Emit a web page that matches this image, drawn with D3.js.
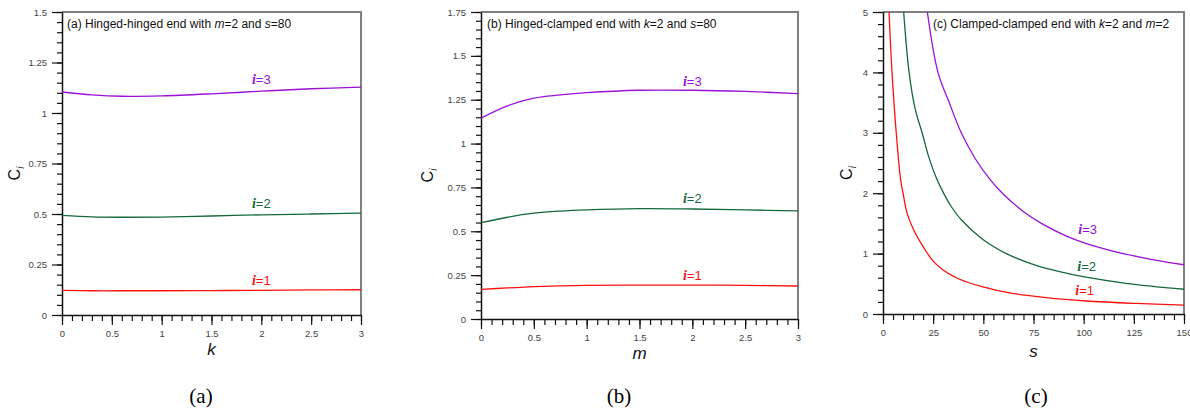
<!DOCTYPE html>
<html>
<head>
<meta charset="utf-8">
<script src="https://cdn.jsdelivr.net/npm/d3@7"></script>
<style>
  html, body { margin: 0; padding: 0; background: #fff; }
  svg { display: block; }
  .tick text { font-family: Arial, "Liberation Sans", sans-serif; fill: #444; }
</style>
</head>
<body>
<svg id="fig" width="1190" height="417"></svg>
<script>
// ---- Data -------------------------------------------------------------
// (a) Hinged-hinged end, m=2, s=80 : C_i against k
const aK  = [0, 0.3, 0.6, 1.0, 1.5, 2.0, 2.5, 3.0];
const aI1 = [0.122, 0.120, 0.120, 0.120, 0.121, 0.122, 0.124, 0.125];
const aI2 = [0.493, 0.486, 0.484, 0.485, 0.490, 0.496, 0.500, 0.504];
const aI3 = [1.104, 1.090, 1.083, 1.085, 1.095, 1.108, 1.120, 1.128];

// (b) Hinged-clamped end, k=2, s=80 : C_i against m
const bM  = [0, 0.25, 0.5, 0.75, 1.0, 1.5, 2.0, 2.5, 3.0];
const bI1 = [0.169, 0.177, 0.184, 0.189, 0.192, 0.193, 0.193, 0.192, 0.188];
const bI2 = [0.549, 0.580, 0.603, 0.615, 0.622, 0.629, 0.627, 0.622, 0.616];
const bI3 = [1.145, 1.215, 1.259, 1.277, 1.290, 1.304, 1.304, 1.297, 1.285];

// (c) Clamped-clamped end, k=2, m=2 : C_i against s
const cS1 = [3.0, 4.5, 6.6, 8.8, 10.0, 12.0, 15.3, 19.9, 24.9, 29.9, 38.2, 49.8, 63.1, 81.4, 101.3, 126.2, 150];
const cI1 = [5.0, 4.0, 3.0, 2.22, 2.0, 1.67, 1.39, 1.12, 0.88, 0.73, 0.575, 0.45, 0.35, 0.27, 0.215, 0.175, 0.148];
const cS2 = [10.3, 13.0, 16.0, 19.5, 23.0, 26.6, 30.5, 34.0, 39.0, 49.8, 61.5, 74.8, 88.0, 99.7, 121.0, 150];
const cI2 = [5.0, 4.0, 3.4, 3.0, 2.58, 2.25, 1.98, 1.78, 1.56, 1.235, 1.0, 0.822, 0.70, 0.617, 0.508, 0.41];
const cS3 = [22.1, 27.4, 33.0, 39.0, 46.0, 53.5, 59.5, 70.6, 78.9, 91.4, 101.0, 116.0, 133.0, 150];
const cI3 = [5.0, 4.0, 3.5, 3.0, 2.57, 2.22, 2.0, 1.68, 1.50, 1.29, 1.17, 1.03, 0.91, 0.815];

// Tick values
const aXTicks = [0, 0.5, 1, 1.5, 2, 2.5, 3];
const aYTicks = [0, 0.25, 0.5, 0.75, 1, 1.25, 1.5];
const bXTicks = [0, 0.5, 1, 1.5, 2, 2.5, 3];
const bYTicks = [0, 0.25, 0.5, 0.75, 1, 1.25, 1.5, 1.75];
const cXTicks = [0, 25, 50, 75, 100, 125, 150];
const cYTicks = [0, 1, 2, 3, 4, 5];

// Curve labels: [mode number, x, y] in data units
const aLabels = [[3, 2.0, 1.145], [2, 2.0, 0.529], [1, 2.0, 0.147]];
const bLabels = [[3, 2.0, 1.329], [2, 2.0, 0.660], [1, 2.0, 0.224]];
const cLabels = [[3, 102, 1.32], [2, 101.5, 0.72], [1, 100.5, 0.31]];

const seriesColors = { 1: "#ff1010", 2: "#14693a", 3: "#9a10d8" };

// ---- Drawing ----------------------------------------------------------
const svg = d3.select("#fig");

function range(lo, hi, step) {
  const out = [];
  const n = Math.round((hi - lo) / step);
  for (let i = 0; i <= n; i++) out.push(+(lo + i * step).toFixed(6));
  return out;
}

function panel(cfg) {
  const g = svg.append("g");
  const x = d3.scaleLinear().domain(cfg.xDomain).range([cfg.left, cfg.right]);
  const y = d3.scaleLinear().domain(cfg.yDomain).range([cfg.bottom, cfg.top]);

  const clipId = "clip-" + cfg.id;
  svg.append("clipPath").attr("id", clipId)
    .append("rect")
    .attr("x", cfg.left).attr("y", cfg.top)
    .attr("width", cfg.right - cfg.left).attr("height", cfg.bottom - cfg.top);

  // frame: top and right edges
  g.append("path")
    .attr("d", `M${cfg.left},${cfg.top}H${cfg.right}V${cfg.bottom}`)
    .attr("fill", "none").attr("stroke", "#808080").attr("stroke-width", 2);

  // minor ticks
  const xMinor = range(cfg.xDomain[0], cfg.xDomain[1], cfg.xMinor);
  const yMinor = range(cfg.yDomain[0], cfg.yDomain[1], cfg.yMinor);
  g.append("g").attr("transform", `translate(0,${cfg.bottom})`)
    .call(d3.axisBottom(x).tickValues(xMinor).tickSize(6).tickFormat(""))
    .call(s => s.select(".domain").remove())
    .selectAll("line").attr("stroke", "#111").attr("stroke-width", 1.2);
  g.append("g").attr("transform", `translate(${cfg.left},0)`)
    .call(d3.axisLeft(y).tickValues(yMinor).tickSize(5).tickFormat(""))
    .call(s => s.select(".domain").remove())
    .selectAll("line").attr("stroke", "#111").attr("stroke-width", 1.2);

  // major ticks with labels
  const xAx = g.append("g").attr("transform", `translate(0,${cfg.bottom})`)
    .call(d3.axisBottom(x).tickValues(cfg.xTicks).tickSize(10).tickSizeOuter(0).tickPadding(5)
      .tickFormat(d => String(d)));
  xAx.select(".domain").attr("stroke", "#111").attr("stroke-width", 1.5);
  xAx.selectAll(".tick line").attr("stroke", "#111").attr("stroke-width", 1.2);
  xAx.selectAll(".tick text").attr("font-size", 9.5);

  const yAx = g.append("g").attr("transform", `translate(${cfg.left},0)`)
    .call(d3.axisLeft(y).tickValues(cfg.yTicks).tickSize(10).tickSizeOuter(0).tickPadding(5)
      .tickFormat(d => String(d)));
  yAx.select(".domain").attr("stroke", "#111").attr("stroke-width", 1.5);
  yAx.selectAll(".tick line").attr("stroke", "#111").attr("stroke-width", 1.2);
  yAx.selectAll(".tick text").attr("font-size", 9.5);

  // curves
  const line = d3.line().x(d => x(d[0])).y(d => y(d[1])).curve(d3.curveCatmullRom.alpha(0.5));
  const plot = g.append("g").attr("clip-path", `url(#${clipId})`);
  cfg.series.forEach(s => {
    plot.append("path")
      .datum(s.xs.map((v, i) => [v, s.ys[i]]))
      .attr("d", line)
      .attr("fill", "none")
      .attr("stroke", seriesColors[s.n])
      .attr("stroke-width", 1.3);
  });

  // curve labels
  cfg.labels.forEach(([n, lx, ly]) => {
    const t = g.append("text")
      .attr("x", x(lx)).attr("y", y(ly))
      .attr("text-anchor", "middle")
      .attr("fill", seriesColors[n])
      .attr("font-family", "Arial, 'Liberation Sans', sans-serif")
      .attr("font-size", 13);
    t.append("tspan").attr("font-family", "'Liberation Serif', 'DejaVu Serif', serif")
      .attr("font-style", "italic").attr("font-weight", "bold").attr("font-size", 14).text("i");
    t.append("tspan").text("=" + n);
  });

  // panel heading
  const h = g.append("text")
    .attr("x", cfg.titleX).attr("y", cfg.top + 16)
    .attr("font-family", "Arial, 'Liberation Sans', sans-serif")
    .attr("font-size", 12).attr("fill", "#111");
  cfg.title.forEach(([txt, it]) => {
    h.append("tspan").attr("font-style", it ? "italic" : "normal").text(txt);
  });

  // axis titles
  g.append("text")
    .attr("x", (cfg.left + cfg.right) / 2).attr("y", cfg.bottom + cfg.xTitleDy)
    .attr("text-anchor", "middle")
    .attr("font-family", "Arial, 'Liberation Sans', sans-serif")
    .attr("font-size", 17).attr("font-style", "italic").attr("fill", "#111")
    .text(cfg.xTitle);

  const yt = g.append("text")
    .attr("transform", `translate(${cfg.left - cfg.yTitleDx},${(cfg.top + cfg.bottom) / 2 + 10}) rotate(-90)`)
    .attr("text-anchor", "middle")
    .attr("font-family", "Arial, 'Liberation Sans', sans-serif")
    .attr("font-size", 16).attr("fill", "#111");
  yt.append("tspan").text("C");
  yt.append("tspan").attr("font-size", 10).attr("font-style", "italic").attr("dy", 4).text("i");

  // caption below
  svg.append("text")
    .attr("x", cfg.captionX).attr("y", 403)
    .attr("text-anchor", "middle")
    .attr("font-family", "'Liberation Serif', 'Times New Roman', serif")
    .attr("font-size", 21).attr("fill", "#000")
    .text(cfg.caption);
}

panel({
  id: "a", left: 62, right: 361, top: 12, bottom: 315,
  xDomain: [0, 3], yDomain: [0, 1.5], xTicks: aXTicks, yTicks: aYTicks, xMinor: 0.1, yMinor: 0.05,
  series: [{ n: 1, xs: aK, ys: aI1 }, { n: 2, xs: aK, ys: aI2 }, { n: 3, xs: aK, ys: aI3 }],
  labels: aLabels,
  title: [["(a) Hinged-hinged end with "], ["m", true], ["=2 and "], ["s", true], ["=80"]],
  titleX: 67, xTitle: "k", xTitleDy: 40, yTitleDx: 42, caption: "(a)", captionX: 201
});

panel({
  id: "b", left: 481, right: 798, top: 12, bottom: 319,
  xDomain: [0, 3], yDomain: [0, 1.75], xTicks: bXTicks, yTicks: bYTicks, xMinor: 0.1, yMinor: 0.05,
  series: [{ n: 1, xs: bM, ys: bI1 }, { n: 2, xs: bM, ys: bI2 }, { n: 3, xs: bM, ys: bI3 }],
  labels: bLabels,
  title: [["(b) Hinged-clamped end with "], ["k", true], ["=2 and "], ["s", true], ["=80"]],
  titleX: 487, xTitle: "m", xTitleDy: 40, yTitleDx: 48, caption: "(b)", captionX: 619
});

panel({
  id: "c", left: 883, right: 1184, top: 12, bottom: 314,
  xDomain: [0, 150], yDomain: [0, 5], xTicks: cXTicks, yTicks: cYTicks, xMinor: 5, yMinor: 0.2,
  series: [{ n: 1, xs: cS1, ys: cI1 }, { n: 2, xs: cS2, ys: cI2 }, { n: 3, xs: cS3, ys: cI3 }],
  labels: cLabels,
  title: [["(c) Clamped-clamped end with "], ["k", true], ["=2 and "], ["m", true], ["=2"]],
  titleX: 933, xTitle: "s", xTitleDy: 43, yTitleDx: 31, caption: "(c)", captionX: 1036
});
</script>
</body>
</html>
